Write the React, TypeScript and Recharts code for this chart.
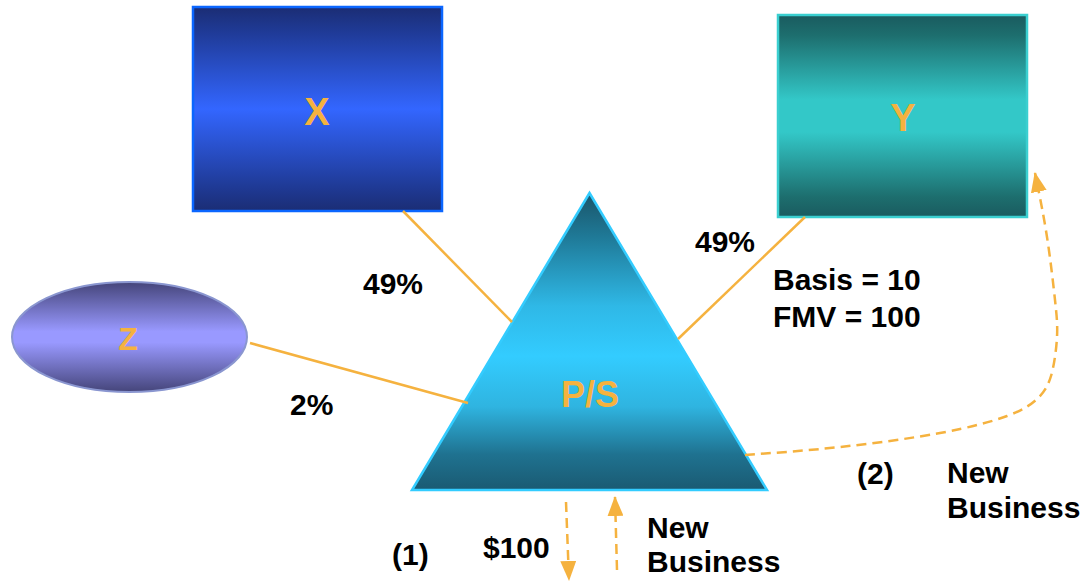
import React from 'react';
import { ComposedChart, XAxis, YAxis, ReferenceArea, ReferenceLine, Line, Scatter } from 'recharts';

// Diagram space (units match the picture)
const boxNodes = [
  { id: 'X', x1: 193, x2: 442, y1: 7, y2: 211 },
  { id: 'Y', x1: 778, x2: 1027, y1: 15, y2: 217 },
];
const ellipseNode = { id: 'Z', x1: 12, x2: 247, y1: 282, y2: 392 };
const triangleNode = { id: 'P/S', x1: 412, x2: 767, y1: 193, y2: 490 };

const ownershipLinks = [
  [{ x: 403, y: 211 }, { x: 512, y: 322 }],
  [{ x: 805, y: 217 }, { x: 678, y: 339 }],
  [{ x: 250, y: 343 }, { x: 468, y: 403 }],
];

const flowDown = [{ x: 566, y: 502 }, { x: 569, y: 580 }];
const flowUp = [{ x: 617, y: 570 }, { x: 615, y: 497 }];
const flowCurve = [
  { x: 745, y: 455 },
  { x: 840, y: 447 },
  { x: 940, y: 433 },
  { x: 1007, y: 416 },
  { x: 1037, y: 399 },
  { x: 1051, y: 376 },
  { x: 1057, y: 337 },
  { x: 1055, y: 300 },
  { x: 1047, y: 237 },
  { x: 1035, y: 173 },
];

const nodeLabels = [
  { x: 317, y: 125, text: 'X', kind: 'node' },
  { x: 903, y: 131, text: 'Y', kind: 'node' },
  { x: 128, y: 350, text: 'Z', kind: 'nodeSmall' },
  { x: 590, y: 407, text: 'P/S', kind: 'nodePS' },
];

const textLabels = [
  { x: 363, y: 294, text: '49%' },
  { x: 290, y: 415, text: '2%' },
  { x: 695, y: 252, text: '49%' },
  { x: 773, y: 290, text: 'Basis = 10' },
  { x: 773, y: 327, text: 'FMV = 100' },
  { x: 857, y: 484, text: '(2)' },
  { x: 947, y: 483, text: 'New' },
  { x: 947, y: 518, text: 'Business' },
  { x: 392, y: 565, text: '(1)' },
  { x: 483, y: 558, text: '$100' },
  { x: 647, y: 538, text: 'New' },
  { x: 647, y: 572, text: 'Business' },
];

const ORANGE = '#f5b23f';
const FONT = '"Liberation Sans", Arial, Helvetica, sans-serif';

const EllipseShape = (p: any) => (
  <ellipse
    cx={p.x + p.width / 2}
    cy={p.y + p.height / 2}
    rx={p.width / 2}
    ry={p.height / 2}
    fill="url(#gradZ)"
    stroke="#8a96d0"
    strokeWidth={2}
  />
);

const TriangleShape = (p: any) => (
  <path
    d={`M${p.x + p.width / 2},${p.y} L${p.x + p.width},${p.y + p.height} L${p.x},${p.y + p.height} Z`}
    fill="url(#gradPS)"
    stroke="#33ccff"
    strokeWidth={2.5}
    strokeLinejoin="miter"
  />
);

const NodeText = (p: any) => {
  const k = p.payload.kind;
  const size = k === 'node' ? 38 : k === 'nodePS' ? 36 : 32;
  return (
    <text x={p.cx} y={p.cy} textAnchor="middle" fontFamily={FONT} fontWeight="bold" fontSize={size} fill={ORANGE}>
      {p.payload.text}
    </text>
  );
};

const PlainText = (p: any) => (
  <text x={p.cx} y={p.cy} textAnchor="start" fontFamily={FONT} fontWeight="bold" fontSize={30} fill="#000">
    {p.payload.text}
  </text>
);

export default function App() {
  return (
    <div style={{ position: 'absolute', left: 0, top: 0, width: 1085, height: 581, background: '#fff' }}>
      <style>{'body{margin:0}'}</style>
      <ComposedChart width={1085} height={581} margin={{ top: 0, right: 0, bottom: 0, left: 0 }}>
        <defs>
          <linearGradient id="gradX" x1="0" y1="0" x2="0" y2="1">
            <stop offset="0" stopColor="#1b2d74" />
            <stop offset="0.12" stopColor="#1f3a96" />
            <stop offset="0.5" stopColor="#3366ff" />
            <stop offset="0.88" stopColor="#1f3a96" />
            <stop offset="1" stopColor="#1b2d74" />
          </linearGradient>
          <linearGradient id="gradY" x1="0" y1="0" x2="0" y2="1">
            <stop offset="0" stopColor="#1a5b5f" />
            <stop offset="0.1" stopColor="#1d6e6e" />
            <stop offset="0.42" stopColor="#33c8c8" />
            <stop offset="0.58" stopColor="#33c8c8" />
            <stop offset="0.9" stopColor="#1d6e6e" />
            <stop offset="1" stopColor="#1a5b5f" />
          </linearGradient>
          <linearGradient id="gradZ" x1="0" y1="0" x2="0" y2="1">
            <stop offset="0" stopColor="#45457a" />
            <stop offset="0.45" stopColor="#9999ff" />
            <stop offset="0.55" stopColor="#9999ff" />
            <stop offset="1" stopColor="#45457a" />
          </linearGradient>
          <linearGradient id="gradPS" x1="0" y1="0" x2="0" y2="1">
            <stop offset="0" stopColor="#1a5468" />
            <stop offset="0.15" stopColor="#1f7a98" />
            <stop offset="0.38" stopColor="#2fb8e6" />
            <stop offset="0.55" stopColor="#33ccff" />
            <stop offset="0.72" stopColor="#2fb4e0" />
            <stop offset="0.88" stopColor="#1f7290" />
            <stop offset="1" stopColor="#1a5a72" />
          </linearGradient>
          <marker id="arrowHead" viewBox="0 0 20 16" markerWidth="20" markerHeight="16" refX="19" refY="8" orient="auto" markerUnits="userSpaceOnUse">
            <path d="M0,0 L20,8 L0,16 Z" fill={ORANGE} />
          </marker>
        </defs>
        <XAxis type="number" dataKey="x" domain={[0, 1085]} hide allowDataOverflow />
        <YAxis type="number" dataKey="y" domain={[0, 581]} reversed hide allowDataOverflow />

        {ownershipLinks.map((seg, i) => (
          <ReferenceLine key={`l${i}`} segment={seg} stroke={ORANGE} strokeWidth={2.5} />
        ))}

        {boxNodes.map((b) => (
          <ReferenceArea
            key={b.id}
            x1={b.x1}
            x2={b.x2}
            y1={b.y1}
            y2={b.y2}
            fill={b.id === 'X' ? 'url(#gradX)' : 'url(#gradY)'}
            fillOpacity={1}
            stroke={b.id === 'X' ? '#0a66ff' : '#3acfd0'}
            strokeWidth={2.5}
          />
        ))}
        <ReferenceArea
          x1={ellipseNode.x1}
          x2={ellipseNode.x2}
          y1={ellipseNode.y1}
          y2={ellipseNode.y2}
          shape={EllipseShape}
        />
        <ReferenceArea
          x1={triangleNode.x1}
          x2={triangleNode.x2}
          y1={triangleNode.y1}
          y2={triangleNode.y2}
          shape={TriangleShape}
        />

        <Line data={flowDown} dataKey="y" type="linear" stroke={ORANGE} strokeWidth={2.5} strokeDasharray="10 6" dot={false} activeDot={false} isAnimationActive={false} markerEnd="url(#arrowHead)" />
        <Line data={flowUp} dataKey="y" type="linear" stroke={ORANGE} strokeWidth={2.5} strokeDasharray="10 6" dot={false} activeDot={false} isAnimationActive={false} markerEnd="url(#arrowHead)" />
        <Line data={flowCurve} dataKey="y" type="natural" stroke={ORANGE} strokeWidth={2.5} strokeDasharray="10 6" dot={false} activeDot={false} isAnimationActive={false} markerEnd="url(#arrowHead)" />

        <Scatter data={nodeLabels} dataKey="y" shape={NodeText} isAnimationActive={false} />
        <Scatter data={textLabels} dataKey="y" shape={PlainText} isAnimationActive={false} />
      </ComposedChart>
    </div>
  );
}
